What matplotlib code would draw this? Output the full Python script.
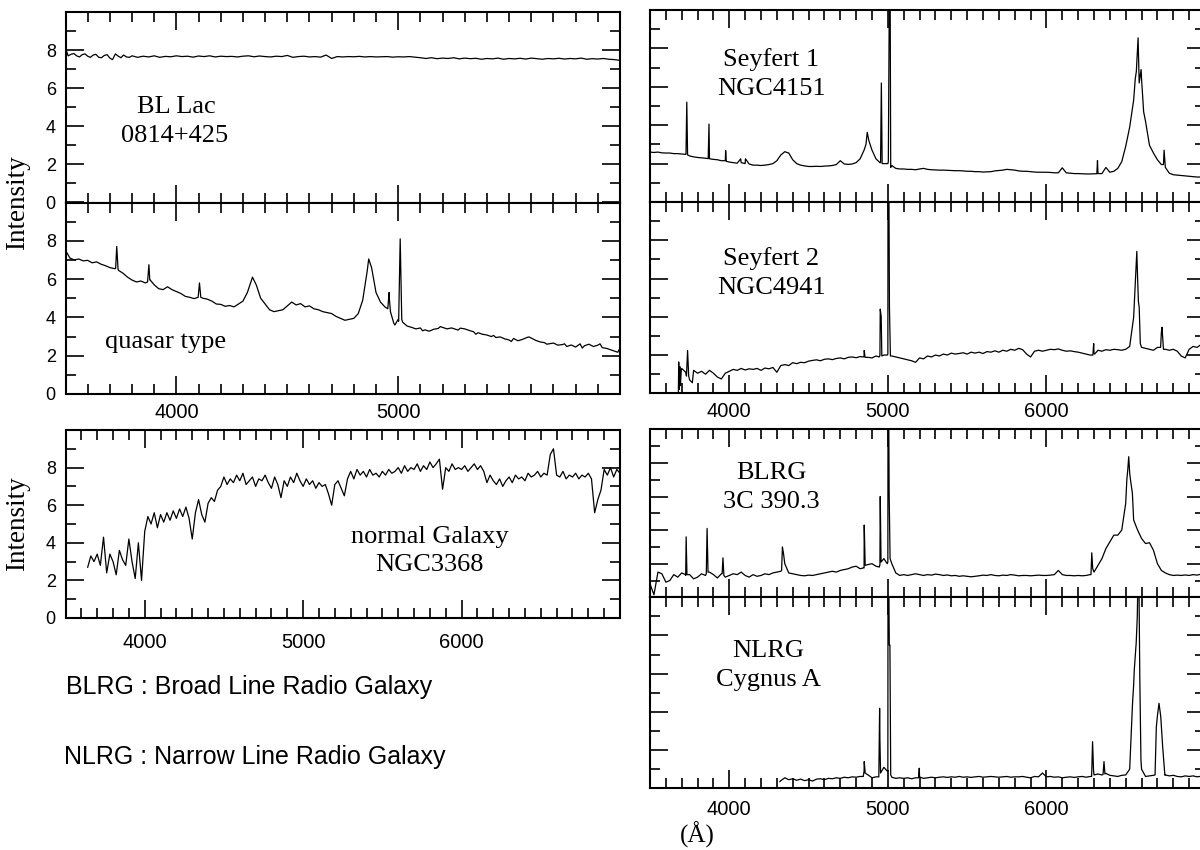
import numpy as np
import matplotlib
matplotlib.use("Agg")
import matplotlib.pyplot as plt
from matplotlib.ticker import MultipleLocator, FuncFormatter

plt.rcParams["font.family"] = ["Liberation Sans", "DejaVu Sans"]
SERIF = ["Liberation Serif", "DejaVu Serif"]

# ---------------------------------------------------------------------------
# Spectra read off the scan. Continuum sampled on a regular wavelength grid,
# emission / absorption features listed separately (wavelength in Angstrom).
# ---------------------------------------------------------------------------

# BL Lac 0814+425, 3500-6000 every 25 A
blLacWave = np.arange(3500, 6001, 25)
blLacFlux = [
    8.10, 7.78, 7.70, 7.76, 7.68, 7.74, 7.62, 7.72, 7.58, 7.80,
    7.60, 7.64, 7.70, 7.62, 7.68, 7.64, 7.70, 7.62, 7.67, 7.65,
    7.70, 7.66, 7.68, 7.63, 7.69, 7.66, 7.70, 7.64, 7.68, 7.66,
    7.67, 7.64, 7.68, 7.70, 7.65, 7.69, 7.66, 7.64, 7.68, 7.66,
    7.72, 7.62, 7.66, 7.68, 7.64, 7.66, 7.63, 7.74, 7.56, 7.66,
    7.64, 7.66, 7.65, 7.67, 7.64, 7.66, 7.64, 7.65, 7.66, 7.63,
    7.65, 7.64, 7.66, 7.63, 7.60, 7.56, 7.60, 7.55, 7.58, 7.56,
    7.60, 7.54, 7.58, 7.55, 7.57, 7.52, 7.56, 7.54, 7.58, 7.52,
    7.56, 7.54, 7.57, 7.53, 7.58, 7.55, 7.52, 7.56, 7.54, 7.57,
    7.53, 7.56, 7.54, 7.58, 7.52, 7.55, 7.53, 7.56, 7.52, 7.50,
    7.46,
]
blLacLineWave = [3512, 3538, 3563, 3588, 3612, 3637, 3662, 3688, 3712, 3738, 3762, 3788]
blLacLineFlux = [7.70, 7.82, 7.64, 7.80, 7.62, 7.78, 7.60, 7.76, 7.50, 7.68, 7.74, 7.62]

# quasar, 3500-6000 every 20 A
qsoWave = np.arange(3500, 6001, 20)
qsoFlux = [
    7.50, 7.10, 7.00, 7.05, 6.95, 6.98, 6.85, 6.90, 6.78, 6.70,
    6.60, 6.55, 6.45, 6.30, 6.10, 5.95, 5.85, 5.90, 5.80, 5.95,
    5.70, 5.50, 5.45, 5.60, 5.45, 5.35, 5.25, 5.10, 5.05, 4.98,
    5.30, 5.00, 4.95, 4.85, 4.70, 4.68, 4.58, 4.62, 4.55, 4.70,
    4.85, 5.30, 6.00, 5.70, 5.00, 4.70, 4.40, 4.30, 4.35, 4.40,
    4.60, 4.80, 4.65, 4.72, 4.55, 4.60, 4.45, 4.40, 4.30, 4.25,
    4.20, 4.05, 3.95, 3.85, 3.90, 3.95, 4.20, 4.90, 6.40, 6.60,
    5.30, 4.80, 4.55, 5.00, 3.70, 3.90, 3.75, 3.55, 3.48, 3.40,
    3.45, 3.35, 3.28, 3.38, 3.42, 3.48, 3.40, 3.45, 3.38, 3.44,
    3.40, 3.32, 3.25, 3.20, 3.12, 3.08, 3.00, 2.95, 2.98, 2.88,
    2.82, 2.90, 2.78, 2.85, 2.95, 2.92, 2.80, 2.72, 2.68, 2.62,
    2.66, 2.55, 2.58, 2.48, 2.56, 2.45, 2.62, 2.52, 2.60, 2.48,
    2.55, 2.42, 2.38, 2.30, 2.22, 2.40,
]
qsoLineWave = [3726, 3731, 3737, 3870, 3876, 3882, 4098, 4104, 4110, 4343,
               4867, 4953, 4959, 4965, 4985, 5002, 5009, 5016,
               5110, 5190, 5270, 5350, 5430, 5510, 5590, 5670, 5750, 5830, 5910, 5990]
qsoLineFlux = [6.55, 7.70, 6.50, 5.85, 6.75, 5.95, 5.05, 5.80, 5.05, 6.10,
               7.05, 4.45, 5.30, 4.30, 3.60, 3.80, 8.10, 3.90,
               3.30, 3.52, 3.34, 3.12, 3.06, 2.74, 2.98, 2.60, 2.62, 2.40, 2.62, 2.18]

# normal galaxy NGC3368, 3640-7000 every 20 A
galWave = np.arange(3640, 7001, 20)
galFlux = [
    2.7, 3.3, 3.0, 3.4, 2.8, 4.3, 2.4, 3.4, 3.0, 2.3,
    3.6, 3.1, 2.8, 4.2, 3.0, 2.1, 4.0, 2.0, 4.6, 5.4,
    5.0, 5.6, 4.8, 5.5, 5.1, 5.6, 5.2, 5.7, 5.3, 5.8,
    5.4, 5.9, 5.3, 4.2, 5.6, 6.3, 5.5, 5.1, 6.1, 6.4,
    6.2, 6.8, 7.0, 7.5, 7.1, 7.4, 7.2, 7.6, 7.3, 7.7,
    7.1, 7.3, 7.5, 7.0, 7.4, 7.3, 7.6, 7.2, 6.9, 7.5,
    7.1, 6.4, 7.3, 7.0, 7.5, 7.2, 7.7, 7.3, 7.0, 7.4,
    7.1, 7.3, 6.9, 7.2, 7.0, 7.1, 6.6, 6.0, 7.1, 7.3,
    6.9, 6.5, 7.4, 7.8, 7.4, 7.9, 7.6, 7.8, 7.5, 7.9,
    7.6, 7.7, 7.5, 7.8, 7.6, 7.9, 7.7, 7.8, 8.0, 7.7,
    8.1, 7.8, 8.0, 7.9, 8.2, 7.8, 8.1, 7.9, 8.3, 8.0,
    8.2, 8.45, 6.85, 8.0, 7.8, 8.2, 7.9, 8.0, 7.9, 8.1,
    7.8, 8.0, 8.2, 7.9, 8.1, 7.8, 7.2, 7.6, 7.3, 7.1,
    7.4, 7.0, 7.3, 7.5, 7.2, 7.6, 7.4, 7.5, 7.3, 7.7,
    7.5, 7.6, 7.8, 7.5, 7.7, 7.6, 8.7, 9.0, 7.6, 7.5,
    7.8, 7.4, 7.6, 7.5, 7.7, 7.4, 7.6, 7.5, 7.7, 7.4,
    5.6, 6.3, 6.8, 7.9, 7.6, 8.0, 7.5, 7.9, 7.7,
]
galLineWave = []
galLineFlux = []

# Seyfert 1 NGC4151, 3500-7000 every 25 A
sy1Wave = np.arange(3500, 7001, 25)
sy1Flux = [
    2.60, 2.58, 2.60, 2.56, 2.55, 2.55, 2.52, 2.52, 2.50, 2.48,
    2.40, 2.35, 2.32, 2.30, 2.28, 2.25, 2.22, 2.20, 2.15, 2.15,
    2.08, 2.05, 2.02, 2.05, 2.00, 1.98, 1.92, 1.92, 1.90, 1.92,
    1.95, 2.00, 2.15, 2.45, 2.62, 2.55, 2.20, 2.00, 1.92, 1.88,
    1.85, 1.85, 1.86, 1.85, 1.87, 1.88, 1.90, 1.95, 2.15, 1.98,
    1.96, 1.98, 2.05, 2.25, 2.70, 3.40, 2.70, 2.25, 2.05, 2.00,
    2.00, 1.90, 1.75, 1.72, 1.72, 1.70, 1.70, 1.68, 1.72, 1.75,
    1.70, 1.68, 1.67, 1.66, 1.66, 1.65, 1.64, 1.63, 1.63, 1.62,
    1.60, 1.60, 1.58, 1.58, 1.56, 1.57, 1.58, 1.62, 1.64, 1.66,
    1.70, 1.68, 1.66, 1.62, 1.60, 1.60, 1.58, 1.56, 1.55, 1.55,
    1.55, 1.54, 1.52, 1.52, 1.78, 1.52, 1.50, 1.48, 1.48, 1.47,
    1.46, 1.46, 1.47, 1.50, 1.48, 1.80, 1.55, 1.60, 1.75, 2.10,
    2.90, 3.90, 5.30, 8.00, 6.40, 4.20, 2.95, 2.55, 2.20, 1.95,
    1.80, 1.50, 1.42, 1.40, 1.38, 1.36, 1.34, 1.32, 1.30, 1.30,
    1.28,
]
sy1LineWave = [3727, 3732, 3737, 3867, 3872, 3877, 3973, 3977, 3981, 4072,
               4102, 4862, 4870, 4880, 4954, 4959, 4964, 5003, 5007, 5010,
               5014, 5018, 6318, 6322, 6326, 6560, 6567, 6578, 6585, 6597,
               6613, 6738, 6742, 6748]
sy1LineFlux = [2.50, 5.20, 2.45, 2.26, 4.06, 2.25, 2.15, 2.68, 2.12, 2.25,
               2.25, 3.00, 3.63, 3.20, 2.05, 6.20, 2.00, 2.10, 7.40, 12.0,
               12.0, 1.80, 1.47, 2.16, 1.48, 6.40, 6.80, 8.55, 6.20, 6.90,
               4.70, 1.95, 2.70, 2.00]

# Seyfert 2 NGC4941, 3675-7000 every 25 A
sy2Wave = np.arange(3675, 7001, 25)
sy2Flux = [
    0.00, 1.30, 1.10, 0.70, 1.20, 1.05, 1.15, 1.00, 1.20, 1.05,
    0.85, 0.75, 1.05, 1.15, 1.25, 1.20, 1.30, 1.22, 1.28, 1.25,
    1.30, 1.20, 1.32, 1.28, 1.35, 1.10, 1.45, 1.50, 1.45, 1.60,
    1.55, 1.62, 1.60, 1.68, 1.72, 1.75, 1.70, 1.78, 1.80, 1.76,
    1.82, 1.85, 1.80, 1.88, 1.90, 1.86, 1.92, 1.95, 1.88, 1.85,
    1.95, 1.98, 2.00, 2.05, 1.95, 1.90, 1.85, 1.80, 1.75, 1.70,
    1.62, 1.85, 1.80, 1.95, 1.90, 2.00, 1.95, 2.05, 2.00, 2.10,
    2.05, 2.08, 2.12, 2.05, 2.15, 2.10, 2.15, 2.08, 2.18, 2.15,
    2.22, 2.15, 2.25, 2.20, 2.30, 2.25, 2.35, 2.28, 2.05, 1.90,
    2.20, 2.25, 2.20, 2.25, 2.30, 2.28, 2.32, 2.25, 2.20, 2.22,
    2.18, 2.15, 2.10, 2.05, 2.00, 2.10, 2.25, 2.20, 2.28, 2.25,
    2.30, 2.28, 2.25, 2.30, 2.45, 3.97, 6.00, 2.40, 2.35, 2.30,
    2.25, 2.40, 3.20, 2.30, 2.25, 2.30, 2.20, 1.95, 1.85, 2.30,
    2.45, 2.40, 2.55, 2.50,
]
sy2LineWave = [3679, 3681, 3684, 3688, 3692, 3697, 3730, 3737, 3744, 3767,
               4846, 4851, 4856, 4945, 4952, 4958, 4962, 4997, 5001, 5006,
               5010, 5016, 6293, 6298, 6304, 6565, 6570, 6580, 6585, 6592,
               6720, 6729, 6738]
sy2LineFlux = [0.00, 1.64, 0.20, 1.40, 0.40, 1.20, 0.90, 2.24, 0.90, 0.55,
               1.90, 2.24, 1.88, 1.90, 4.40, 4.00, 1.95, 2.00, 12.0, 12.0,
               4.50, 1.95, 2.00, 2.60, 2.05, 6.60, 7.42, 4.80, 4.50, 2.60,
               2.40, 3.45, 2.30]

# BLRG 3C 390.3, 3500-7000 every 25 A
blrgWave = np.arange(3500, 7001, 25)
blrgFlux = [
    0.80, 0.15, 1.50, 1.40, 0.90, 1.00, 1.35, 1.20, 1.45, 1.30,
    1.35, 1.10, 1.20, 1.40, 1.30, 1.50, 1.35, 1.15, 1.40, 1.20,
    1.30, 1.40, 1.35, 1.50, 1.30, 1.20, 1.35, 1.25, 1.30, 1.40,
    1.35, 1.45, 1.50, 1.55, 2.00, 1.45, 1.40, 1.35, 1.30, 1.28,
    1.32, 1.30, 1.35, 1.40, 1.45, 1.50, 1.55, 1.50, 1.60, 1.65,
    1.70, 1.80, 1.85, 1.70, 1.75, 1.95, 2.00, 1.85, 1.95, 2.30,
    2.10, 2.00, 1.45, 1.30, 1.35, 1.30, 1.35, 1.40, 1.35, 1.30,
    1.35, 1.32, 1.38, 1.35, 1.30, 1.33, 1.28, 1.30, 1.25, 1.28,
    1.25, 1.22, 1.25, 1.28, 1.32, 1.30, 1.35, 1.30, 1.28, 1.32,
    1.30, 1.35, 1.32, 1.28, 1.30, 1.30, 1.28, 1.30, 1.32, 1.30,
    1.30, 1.32, 1.35, 1.60, 1.35, 1.30, 1.30, 1.28, 1.30, 1.28,
    1.30, 1.35, 1.50, 1.90, 2.30, 2.90, 3.30, 3.70, 3.70, 4.00,
    5.60, 7.40, 4.60, 4.00, 3.50, 3.20, 3.25, 2.80, 2.00, 1.60,
    1.45, 1.35, 1.30, 1.32, 1.30, 1.33, 1.30, 1.35, 1.32, 1.38,
    1.35,
]
blrgLineWave = [3723, 3728, 3733, 3855, 3860, 3866, 3955, 3960, 3966, 4330,
                4335, 4342, 4846, 4851, 4857, 4946, 4952, 4957, 4996, 5001,
                5005, 5008, 5014, 6281, 6286, 6292, 6507, 6513, 6519, 6530,
                6542]
blrgLineFlux = [1.35, 3.60, 1.35, 1.40, 4.10, 1.50, 1.40, 2.35, 1.30, 1.60,
                3.00, 2.60, 1.75, 4.30, 1.90, 1.80, 6.00, 2.10, 2.00, 12.0,
                12.0, 6.30, 2.30, 1.35, 2.65, 1.70, 7.00, 7.60, 8.37, 7.00,
                6.20]

# NLRG Cygnus A, 4325-7000 every 25 A
nlrgWave = np.arange(4325, 7001, 25)
nlrgFlux = [
    0.40, 0.55, 0.45, 0.50, 0.42, 0.48, 0.40, 0.45, 0.38, 0.48,
    0.50, 0.45, 0.52, 0.50, 0.55, 0.52, 0.58, 0.55, 0.60, 0.58,
    0.62, 0.90, 0.70, 0.55, 0.60, 2.50, 1.10, 0.90, 0.58, 0.52,
    0.55, 0.52, 0.55, 0.50, 0.55, 0.58, 0.52, 0.55, 0.58, 0.55,
    0.58, 0.60, 0.57, 0.60, 0.58, 0.62, 0.58, 0.60, 0.57, 0.60,
    0.62, 0.58, 0.60, 0.62, 0.60, 0.58, 0.60, 0.62, 0.58, 0.60,
    0.60, 0.62, 0.58, 0.55, 0.62, 0.60, 0.80, 0.60, 0.62, 0.58,
    0.60, 0.55, 0.58, 0.60, 0.57, 0.60, 0.62, 0.58, 0.62, 0.70,
    0.75, 0.70, 0.78, 0.68, 0.65, 0.62, 0.68, 0.70, 1.00, 5.40,
    10.0, 1.00, 0.62, 0.65, 0.68, 3.80, 3.20, 0.70, 0.65, 0.68,
    0.62, 0.60, 0.65, 0.62, 0.65, 0.60, 0.63, 0.62,
]
nlrgLineWave = [4319, 4845, 4851, 4857, 4943, 4948, 4954, 4996, 5001, 5005,
                5009, 5013, 5018, 5194, 5198, 5203, 6285, 6291, 6297, 6357,
                6363, 6369, 6531, 6543, 6554, 6566, 6573, 6582, 6589, 6596,
                6685, 6693, 6710, 6721, 6733, 6747]
nlrgLineFlux = [0.35, 0.62, 1.40, 0.80, 0.60, 4.19, 0.80, 0.90, 12.0, 12.0,
                7.50, 7.50, 0.70, 0.55, 1.05, 0.58, 0.62, 2.44, 0.95, 0.72,
                1.40, 0.75, 2.18, 4.45, 6.20, 7.60, 9.00, 12.0, 5.70, 1.50,
                0.70, 3.20, 4.45, 3.75, 2.18, 0.68]


def merge(wave, flux, line_wave, line_flux):
    w = np.concatenate([np.asarray(wave, float), np.asarray(line_wave, float)])
    f = np.concatenate([np.asarray(flux, float), np.asarray(line_flux, float)])
    order = np.argsort(w, kind="stable")
    return w[order], f[order]


W, H = 1200, 850
fig = plt.figure(figsize=(12, 8.5), dpi=100)


def add_panel(left, top, right, bottom):
    return fig.add_axes([left / W, 1 - bottom / H, (right - left) / W, (bottom - top) / H])


def style(ax, xlim, xlabels, ylabels, xpad=6.5):
    ax.set_xlim(*xlim)
    ax.set_ylim(0, 10)
    ax.xaxis.set_major_locator(MultipleLocator(1000))
    ax.xaxis.set_minor_locator(MultipleLocator(100))
    ax.yaxis.set_major_locator(MultipleLocator(2))
    ax.yaxis.set_minor_locator(MultipleLocator(1))
    lo, hi = xlim
    ax.xaxis.set_major_formatter(FuncFormatter(lambda v, p: "%d" % v if lo < v < hi else ""))
    ax.yaxis.set_major_formatter(FuncFormatter(lambda v, p: "%d" % v if v < 9.5 else ""))
    ax.tick_params(which="both", direction="in", top=True, right=True, width=1.2)
    ax.tick_params(which="major", length=13)
    ax.tick_params(which="minor", length=7)
    ax.tick_params(axis="x", labelsize=14.5, pad=xpad, labelbottom=xlabels)
    ax.tick_params(axis="y", labelsize=13, pad=7, labelleft=ylabels)
    for s in ax.spines.values():
        s.set_linewidth(1.5)


def draw(ax, wave, flux, line_wave, line_flux):
    w, f = merge(wave, flux, line_wave, line_flux)
    ax.plot(w, f, color="black", linewidth=0.9)


def label(ax, x, y, text):
    ax.text(x, y, text, ha="center", va="center", fontsize=19, family=SERIF)


# left column
axBL = add_panel(65.5, 12, 620, 202.5)
draw(axBL, blLacWave, blLacFlux, blLacLineWave, blLacLineFlux)
style(axBL, (3500, 6000), False, True)
label(axBL, 4000, 5.0, "BL Lac")
label(axBL, 3990, 3.5, "0814+425")

axQ = add_panel(65.5, 202.5, 620, 394)
draw(axQ, qsoWave, qsoFlux, qsoLineWave, qsoLineFlux)
style(axQ, (3500, 6000), True, True, xpad=6.5)
label(axQ, 3950, 2.7, "quasar type")

axG = add_panel(65.5, 430, 620, 618)
draw(axG, galWave, galFlux, galLineWave, galLineFlux)
style(axG, (3500, 7000), True, True, xpad=11)
label(axG, 5800, 4.3, "normal Galaxy")
label(axG, 5800, 2.8, "NGC3368")

# right column (right edge runs just past the image border)
axS1 = add_panel(650, 10, 1205, 202)
draw(axS1, sy1Wave, sy1Flux, sy1LineWave, sy1LineFlux)
style(axS1, (3500, 7000), False, False)
label(axS1, 4264, 7.4, "Seyfert 1")
label(axS1, 4264, 5.9, "NGC4151")

axS2 = add_panel(650, 202, 1205, 393.3)
draw(axS2, sy2Wave, sy2Flux, sy2LineWave, sy2LineFlux)
style(axS2, (3500, 7000), True, False, xpad=6.5)
label(axS2, 4264, 7.06, "Seyfert 2")
label(axS2, 4264, 5.5, "NGC4941")

axB = add_panel(650, 429.3, 1205, 597.3)
draw(axB, blrgWave, blrgFlux, blrgLineWave, blrgLineFlux)
style(axB, (3500, 7000), False, False)
label(axB, 4264, 7.42, "BLRG")
label(axB, 4264, 5.69, "3C 390.3")

axN = add_panel(650, 597.3, 1205, 788.3)
draw(axN, nlrgWave, nlrgFlux, nlrgLineWave, nlrgLineFlux)
style(axN, (3500, 7000), True, False, xpad=8.5)
label(axN, 4245, 7.2, "NLRG")
label(axN, 4245, 5.67, "Cygnus A")

# figure-level text
fig.text(18 / W, 1 - 203 / H, "Intensity", rotation=90, ha="center", va="center",
         fontsize=19.5, family=SERIF)
fig.text(18 / W, 1 - 524 / H, "Intensity", rotation=90, ha="center", va="center",
         fontsize=19.5, family=SERIF)
fig.text(66 / W, 1 - 687 / H, "BLRG : Broad Line Radio Galaxy", ha="left", va="center",
         fontsize=18)
fig.text(64 / W, 1 - 757 / H, "NLRG : Narrow Line Radio Galaxy", ha="left", va="center",
         fontsize=18)
fig.text(697 / W, 1 - 835 / H, "(Å)", ha="center", va="center", fontsize=18, family=SERIF)

fig.savefig("out.png", dpi=100)
